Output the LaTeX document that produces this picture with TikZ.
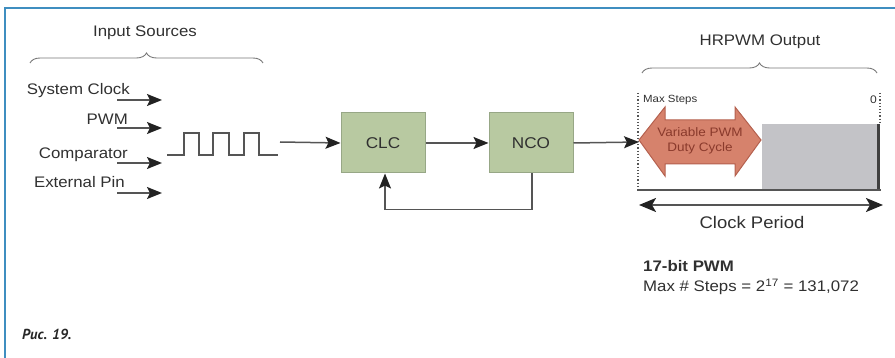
\documentclass[tikz,border=0pt]{standalone}
\usepackage{fontspec}
\setmainfont{Liberation Sans}[FakeStretch=1.1]
\newfontfamily\capfont{PT Sans}
\usetikzlibrary{arrows.meta,decorations.pathreplacing,calc}

\definecolor{frameblue}{HTML}{3F8EC0}
\definecolor{txt}{HTML}{303030}
\definecolor{wire}{HTML}{555555}
\definecolor{tipcol}{HTML}{222222}
\definecolor{boxfill}{HTML}{B8C9A1}
\definecolor{boxedge}{HTML}{97A786}
\definecolor{dutyfill}{HTML}{D6826C}
\definecolor{dutyedge}{HTML}{B4604E}
\definecolor{dutytxt}{HTML}{8A3A2C}
\definecolor{slot}{HTML}{C3C3C7}

\tikzset{
  lbl/.style={text=txt, font=\fontsize{15.3}{17}\selectfont, inner sep=0pt},
  blk/.style={draw=boxedge, fill=boxfill, line width=1pt, minimum width=84pt,
              minimum height=60pt, text=txt, font=\fontsize{15.6}{17}\selectfont},
  wireline/.style={draw=wire, line width=1.5pt},
  arr/.style={wireline, -{Stealth[length=15pt,width=12pt,inset=3pt,color=tipcol]}},
  curly/.style={draw=wire!80, line width=0.9pt,
                decorate, decoration={brace, amplitude=10pt}},
}

\begin{document}
\begin{tikzpicture}[x=1pt,y=-1pt]
\useasboundingbox (0,0) rectangle (895,358);

% outer frame (top and left edges)
\draw[frameblue, line width=1.8pt] (5,358) -- (5,8) -- (895,8);

% ---- input sources ----
\node[lbl] (insrc) at (145,33) {Input Sources};
\draw[curly] (30,63) -- (263,63);

\node[lbl, anchor=base east] (sysclk) at (130,95) {System Clock};
\node[lbl, anchor=base east] (pwm) at (128,125) {PWM};
\node[lbl, anchor=base east] (cmp) at (128,159) {Comparator};
\node[lbl, anchor=base east] (extpin) at (125,188) {External Pin};

\coordinate (s1) at (117,100); \coordinate (e1) at (162,100);
\coordinate (s2) at (117,128); \coordinate (e2) at (162,128);
\coordinate (s3) at (117,163); \coordinate (e3) at (162,163);
\coordinate (s4) at (117,193); \coordinate (e4) at (162,193);
\draw[arr] (s1) -- (e1);
\draw[arr] (s2) -- (e2);
\draw[arr] (s3) -- (e3);
\draw[arr] (s4) -- (e4);

% pulse train
\draw[wireline, line width=1.6pt]
  (167,155) -- (184,155) -- (184,133) -- (199,133) -- (199,155)
  -- (213,155) -- (213,133) -- (229,133) -- (229,155)
  -- (244,155) -- (244,133) -- (259,133) -- (259,155) -- (278,155);
\coordinate (wave) at (280,142);

% ---- CLC / NCO ----
\node[blk] (clc) at (383,143) {CLC};
\node[blk] (nco) at (531,143) {NCO};

\draw[arr] (wave) -- (clc.west);
\draw[arr] (clc.east) -- (nco.west);
\draw[arr] ($(nco.south)+(1,0)$) -- ++(0,36) -| ($(clc.south)+(2,0)$);

% ---- HRPWM output ----
\node[lbl] (hrpwm) at (760,42) {HRPWM Output};
\draw[curly] (642,73) -- (877,73);

\coordinate (outin) at (639,142);
\draw[arr] (nco.east) -- (outin);

% period window
\fill[slot] (762,124) rectangle (880,190);
\draw[black!75, line width=3pt] (878,124) -- (878,190);
\draw[wire, dotted, line width=1.2pt] (638,93) -- (638,190);
\draw[wire, dotted, line width=1.2pt] (880,93) -- (880,124);
\draw[wire, line width=2.2pt] (637,190) -- (881,190);

\node[lbl, font=\fontsize{10.4}{12}\selectfont, anchor=west] (maxst) at (643,100) {Max Steps};
\node[lbl, font=\fontsize{11}{12}\selectfont, anchor=east] (zero) at (877,100) {0};

% duty-cycle double arrow
\filldraw[fill=dutyfill, draw=dutyedge, line width=1pt]
  (639,140) -- (665,107) -- (665,120) -- (735,120) -- (735,107) -- (761,140)
  -- (735,176) -- (735,164) -- (665,164) -- (665,176) -- cycle;
\node[lbl, text=dutytxt, font=\fontsize{12.3}{15}\selectfont, align=center]
  (duty) at (700,141) {Variable PWM\\Duty Cycle};

% clock period
\coordinate (cpl) at (639,205);
\coordinate (cpr) at (883,205);
\draw[wireline, line width=2pt,
      {Stealth[length=17pt,width=14pt,inset=4pt,color=tipcol]}-{Stealth[length=17pt,width=14pt,inset=4pt,color=tipcol]}]
  (cpl) -- (cpr);
\node[lbl, font=\fontsize{16.8}{18}\selectfont] (clkper) at (752,222) {Clock Period};

% resolution note
\node[lbl, font=\bfseries\fontsize{15.3}{17}\selectfont, anchor=base west]
  (bits) at (643,272) {17-bit PWM};
\node[lbl, anchor=base west] (steps) at (643,292)
  {Max \# Steps = 2\textsuperscript{17} = 131,072};

% caption
\node[text=black!85, font=\capfont\bfseries\itshape\fontsize{14.5}{16}\selectfont,
      anchor=base west, inner sep=0pt] (cap) at (22,339) {Рис. 19.};
\end{tikzpicture}
\end{document}
